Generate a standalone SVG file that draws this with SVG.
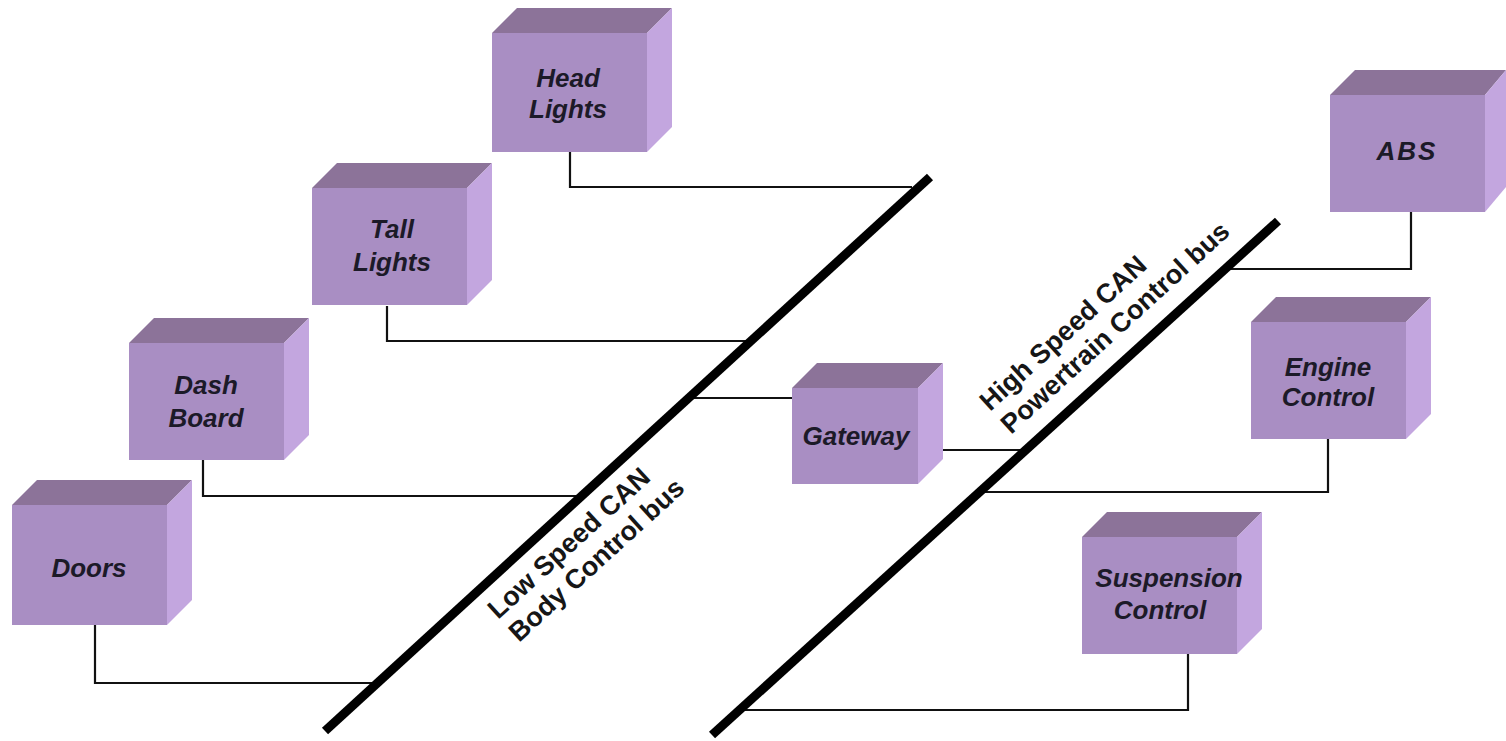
<svg xmlns="http://www.w3.org/2000/svg" width="1506" height="741" viewBox="0 0 1506 741">
<style>
.front{fill:#a98ec3}
.top{fill:#8c7399}
.side{fill:#c3a6df}
.lbl{font-family:"Liberation Sans",Arial,sans-serif;font-size:26px;font-weight:bold;font-style:italic;fill:#1c1a28;text-anchor:middle}
.bus{font-family:"Liberation Sans",Arial,sans-serif;font-size:27px;font-weight:bold;fill:#161616}
.wire{fill:none;stroke:#111;stroke-width:2.2}
.busline{stroke:#000;stroke-width:9;fill:none}
</style>
<rect width="1506" height="741" fill="#fff"/>
<g id="connectors">
<path class="wire" d="M570,152 V187 H912"/>
<path class="wire" d="M387,306 V341 H748"/>
<path class="wire" d="M203,460 V496 H580"/>
<path class="wire" d="M95,625 V683 H378"/>
<path class="wire" d="M690,398 H792"/>
<path class="wire" d="M918,450 H1025"/>
<path class="wire" d="M1411,212 V269 H1222"/>
<path class="wire" d="M1328,439 V492 H980"/>
<path class="wire" d="M1188,654 V710 H738"/>
<path class="busline" d="M325,731 L930,177"/>
<path class="busline" d="M712,735 L1278,221"/>
</g>
<g id="head-lights">
<polygon class="top" points="492,33 517,8 672,8 647,33"/>
<polygon class="side" points="647,33 672,8 672,127 647,152"/>
<rect class="front" x="492" y="33" width="155" height="119"/>
<text class="lbl" x="568" y="87">Head</text>
<text class="lbl" x="568" y="118">Lights</text>
</g>
<g id="tall-lights">
<polygon class="top" points="312,188 337,163 492,163 467,188"/>
<polygon class="side" points="467,188 492,163 492,280 467,305"/>
<rect class="front" x="312" y="188" width="155" height="117"/>
<text class="lbl" x="392" y="238">Tall</text>
<text class="lbl" x="392" y="271">Lights</text>
</g>
<g id="dash-board">
<polygon class="top" points="129,343 154,318 309,318 284,343"/>
<polygon class="side" points="284,343 309,318 309,435 284,460"/>
<rect class="front" x="129" y="343" width="155" height="117"/>
<text class="lbl" x="206" y="394">Dash</text>
<text class="lbl" x="206" y="427">Board</text>
</g>
<g id="doors">
<polygon class="top" points="12,505 37,480 192,480 167,505"/>
<polygon class="side" points="167,505 192,480 192,600 167,625"/>
<rect class="front" x="12" y="505" width="155" height="120"/>
<text class="lbl" x="89" y="577">Doors</text>
</g>
<g id="gateway">
<polygon class="top" points="792,388 817,363 943,363 918,388"/>
<polygon class="side" points="918,388 943,363 943,459 918,484"/>
<rect class="front" x="792" y="388" width="126" height="96"/>
<text class="lbl" x="856" y="445">Gateway</text>
</g>
<g id="abs">
<polygon class="top" points="1330,95 1355,70 1506,70 1485,95"/>
<polygon class="side" points="1485,95 1506,70 1506,187 1485,212"/>
<rect class="front" x="1330" y="95" width="155" height="117"/>
<text class="lbl" x="1407" y="160" letter-spacing="2">ABS</text>
</g>
<g id="engine-control">
<polygon class="top" points="1251,322 1276,297 1431,297 1406,322"/>
<polygon class="side" points="1406,322 1431,297 1431,414 1406,439"/>
<rect class="front" x="1251" y="322" width="155" height="117"/>
<text class="lbl" x="1328" y="376">Engine</text>
<text class="lbl" x="1328" y="406">Control</text>
</g>
<g id="suspension-control">
<polygon class="top" points="1082,537 1107,512 1262,512 1237,537"/>
<polygon class="side" points="1237,537 1262,512 1262,629 1237,654"/>
<rect class="front" x="1082" y="537" width="155" height="117"/>
<text class="lbl" x="1169" y="587">Suspension</text>
<text class="lbl" x="1160" y="619">Control</text>
</g>
<g id="low-speed-label" transform="translate(498,620) rotate(-42.4)">
<text class="bus" x="0" y="0">Low Speed CAN</text>
<text class="bus" x="0" y="31">Body Control bus</text>
</g>
<g id="high-speed-label" transform="translate(990,412) rotate(-42.4)">
<text class="bus" x="0" y="0">High Speed CAN</text>
<text class="bus" x="0" y="31">Powertrain Control bus</text>
</g>
</svg>
